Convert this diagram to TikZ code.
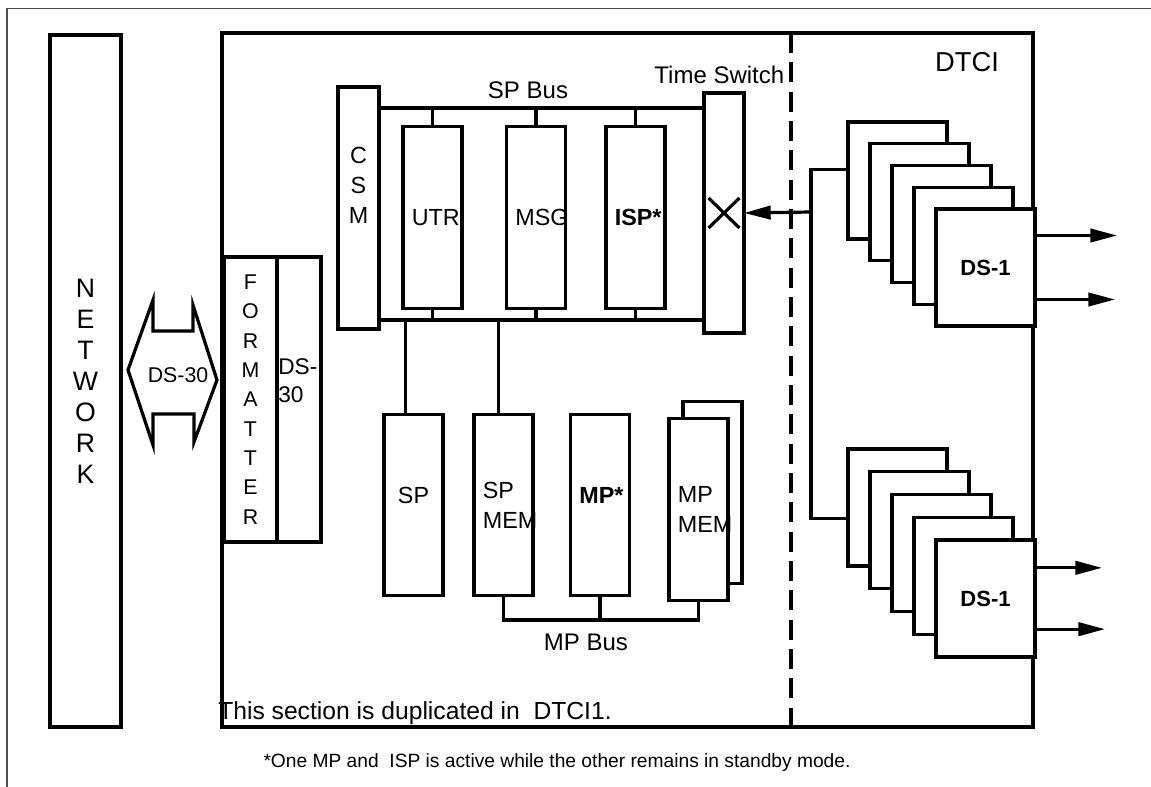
\documentclass[tikz,border=0pt]{standalone}
\usepackage{fontspec}
\setmainfont{Liberation Sans}
\usetikzlibrary{arrows.meta,positioning}
\newcommand\lblfont{\fontsize{17.5}{22.5}\selectfont}
\newcommand\tagfont{\fontsize{18}{22}\selectfont}
\tikzset{
  wire/.style={line width=2.4pt},
  box/.style={draw, line width=2.4pt, fill=white, outer sep=0pt, inner sep=0pt, font=\lblfont},
  card/.style={box, minimum width=44.25pt, minimum height=136pt, text width=31pt,
               inner xsep=6.6pt, align=left},
  ds/.style={box, minimum width=74.25pt, minimum height=87.75pt,
             font=\fontsize{16.5}{20}\selectfont\bfseries},
  arrow/.style={wire, -{Triangle[length=20pt,width=10pt]}},
  divider/.style={wire, dash pattern=on 15pt off 7pt},
  tag/.style={font=\tagfont, inner sep=0pt},
}
\begin{document}
\begin{tikzpicture}[x=0.75pt, y=-0.75pt]
  \useasboundingbox (0,0) rectangle (1151,787);
  \draw[line width=1.2pt, black!70] (1151,8.5) -- (7,8.5) -- (7,787);

  \node[box, minimum width=53.25pt, minimum height=519pt, align=center,
        font=\fontsize{20}{23.25}\selectfont] (net) at (85.5,381) {N\\E\\T\\W\\O\\R\\K};
  \node[box, fill=none, minimum width=608.25pt, minimum height=520.5pt] (dtci) at (627.5,380) {};
  \coordinate (cut) at (791,0);
  \draw[divider] (dtci.north -| cut) -- (dtci.south -| cut);
  \node[tag, font=\fontsize{20.5}{24}\selectfont] (dtcilbl) at (967,62) {DTCI};

  \node[box, minimum width=39.75pt, minimum height=213.75pt, align=center,
        font=\fontsize{16}{22}\selectfont] (fmt) at (250.5,399.5) {F\\O\\R\\M\\A\\T\\T\\E\\R};
  \node[box, right=0pt of fmt, minimum width=33pt, minimum height=213.75pt, text width=31pt,
        inner xsep=1pt, align=left, text depth=48.75pt,
        font=\fontsize{17}{21}\selectfont] (port) {DS-\\30};
  \draw[wire] (128,370) -- (153,300) -- (153,331) -- (193,331) -- (193,305) -- (217,380)
    -- (194,442) -- (194,414) -- (153,414) -- (153,445) -- cycle;
  \node[tag, font=\fontsize{16}{19}\selectfont] (linklbl) at (178,375) {DS-30};

  \node[box, minimum width=30.75pt, minimum height=181.5pt, text width=30.75pt,
        align=center, text depth=79.5pt] (csm) at (358.5,208) {C\\S\\M};
  \node[card] (utr) at (432.5,217.5) {UTR};
  \node[card] (msg) at (536,217.5) {MSG};
  \node[card, font=\lblfont\bfseries] (isp) at (635.5,217.5) {ISP*};
  \node[box, minimum width=30pt, minimum height=180pt] (tsw) at (724,213) {};
  \draw[wire] (tsw.center) ++(-15.5,-15) -- ++(31,30) (tsw.center) ++(-15.5,15) -- ++(31,-30);
  \node[tag, above=6.5pt of tsw, xshift=-3.5pt] (tswlbl) {Time Switch};

  \coordinate (spb) at (0,108);
  \coordinate (lob) at (0,320);
  \coordinate (mpb) at (0,620);
  \draw[wire] (csm.east |- spb) -- (tsw.west |- spb);
  \draw[wire] (csm.east |- lob) -- (tsw.west |- lob);
  \foreach \b in {utr,msg,isp}
    \draw[wire] (\b.north) -- (\b.north |- spb) (\b.south) -- (\b.south |- lob);
  \node[tag] (spbuslbl) at (528,90) {SP Bus};

  \node[card, align=center, text depth=15pt] (sp) at (413.5,505) {SP};
  \node[card] (spmem) at (503.5,505) {SP\\MEM};
  \node[card, text depth=15pt, font=\lblfont\bfseries] (mp) at (600,505) {MP*};
  \node[card] (mpmemb) at (712.5,492.5) {};
  \node[card] (mpmem) at (698.5,509.5) {MP\\MEM};
  \draw[wire] ([xshift=-6pt]sp.north) -- ++(0,-94);
  \draw[wire] ([xshift=-4pt]spmem.north) -- ++(0,-94);
  \draw[wire] (spmem.south) -- (spmem.south |- mpb) -- (mpmem.south |- mpb) -- (mpmem.south);
  \draw[wire] (mp.south) -- (mp.south |- mpb);
  \node[tag] (mpbuslbl) at (586,642) {MP Bus};

  \foreach \i in {0,...,3} {
    \node[ds] (dsa\i) at ({897.5+22*\i},{180.5+21.75*\i}) {};
    \node[ds] (dsb\i) at ({897.5+22*\i},{507.5+22.75*\i}) {};
  }
  \node[ds] (dsa4) at (985.5,267.5) {DS-1};
  \node[ds] (dsb4) at (985.5,598.5) {DS-1};
  \coordinate (tap) at (811,212);
  \draw[wire] ([yshift=8pt]dsa0.west) -| (tap) |- ([yshift=-8pt]dsb0.west);
  \draw[arrow] (tap) -- (tsw.east);
  \draw[arrow] ([yshift=24pt]dsa4.east) -- ++(82,0);
  \draw[arrow] ([yshift=-24pt]dsa4.east) -- ++(80,0);
  \draw[arrow] ([yshift=23pt]dsb4.east) -- ++(67,0);
  \draw[arrow] ([yshift=-23pt]dsb4.east) -- ++(70,0);

  \node[tag, anchor=west, font=\fontsize{18.5}{22}\selectfont] (duplbl) at (218,713)
    {This section is duplicated in\ \ DTCI1.};
  \node[tag, font=\fontsize{14.4}{17}\selectfont] (note) at (557,763)
    {*One MP and\ \ ISP is active while the other remains in standby mode.};
\end{tikzpicture}
\end{document}
